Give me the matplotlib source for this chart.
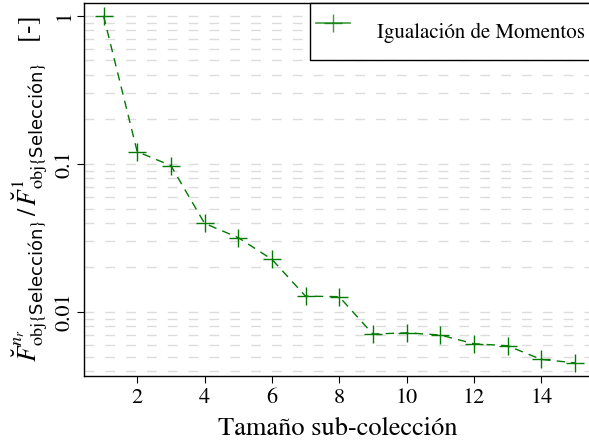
import matplotlib
matplotlib.use("Agg")
import matplotlib.pyplot as plt
from matplotlib.lines import Line2D
from matplotlib.ticker import LogLocator, FixedLocator, FixedFormatter

# Data
sizes = [1, 2, 3, 4, 5, 6, 7, 8, 9, 10, 11, 12, 13, 14, 15]
ratio = [1.0, 0.121, 0.0975, 0.0397, 0.0318, 0.0227, 0.0128, 0.0127,
         0.0071, 0.00724, 0.0070, 0.00611, 0.00592, 0.00479, 0.00454]
y_ticks = [0.01, 0.1, 1]
y_tick_labels = ["0.01", "0.1", "1"]
x_ticks = [2, 4, 6, 8, 10, 12, 14]
series_name = 'Igualación de Momentos'

plt.rcParams['font.family'] = ['STIXGeneral', 'DejaVu Serif']
plt.rcParams['mathtext.fontset'] = 'custom'
plt.rcParams['mathtext.rm'] = 'STIXGeneral'
plt.rcParams['mathtext.it'] = 'STIXGeneral:italic'
plt.rcParams['mathtext.bf'] = 'STIXGeneral:bold'
plt.rcParams['mathtext.sf'] = 'DejaVu Sans'
plt.rcParams['mathtext.fallback'] = 'stix'

green = '#007a00'

fig = plt.figure(figsize=(5.89, 4.43), dpi=100)
ax = fig.add_axes([84 / 589, 1 - 376 / 443, (591 - 84) / 589, (376 - 3) / 443])

ax.plot(sizes, ratio, color=green, linestyle=(0, (6, 4.5)), linewidth=1.0,
        marker='+', markersize=13, markeredgewidth=1.0)

ax.set_yscale('log')
ax.set_ylim(0.0037, 1.22)
ax.set_xlim(0.42, 15.48)

ax.yaxis.set_major_locator(FixedLocator(y_ticks))
ax.yaxis.set_major_formatter(FixedFormatter(y_tick_labels))
ax.yaxis.set_minor_locator(LogLocator(base=10, subs=range(2, 10)))
ax.tick_params(axis='y', which='minor', length=0)
ax.set_xticks(x_ticks)
ax.tick_params(axis='both', which='major', labelsize=16, direction='out', length=5)
ax.tick_params(axis='y', which='major', pad=2)
for lab in ax.get_yticklabels():
    lab.set_rotation(90)
    lab.set_va('center')

ax.grid(True, which='both', axis='y', color='#dcdcdc', linestyle=(0, (7, 8)), linewidth=1.0)
ax.set_axisbelow(True)

ax.set_xlabel('Tamaño sub-colección', fontsize=19, labelpad=7)
ax.set_ylabel(r'$\breve{F}^{n_r}_{\mathrm{obj}\{\mathsf{Selección}\}}\,/\,\breve{F}^{1}_{\mathrm{obj}\{\mathsf{Selección}\}}$   [-]',
              fontsize=18.5, labelpad=3)

# legend handle drawn with a solid line, as in the original
proxy = Line2D([], [], color=green, alpha=0.75, linestyle='-', linewidth=1.2,
               marker='+', markersize=13, markeredgewidth=1.0)
leg = ax.legend([proxy], [series_name], loc='upper right', fontsize=15,
                fancybox=False, framealpha=1.0, edgecolor='black',
                handlelength=1.6, handletextpad=1.3, handleheight=2.9,
                borderpad=0.3, borderaxespad=0.0)
leg.get_frame().set_linewidth(1.0)

for sp in ax.spines.values():
    sp.set_linewidth(1.0)

fig.savefig('out.png', dpi=100)
